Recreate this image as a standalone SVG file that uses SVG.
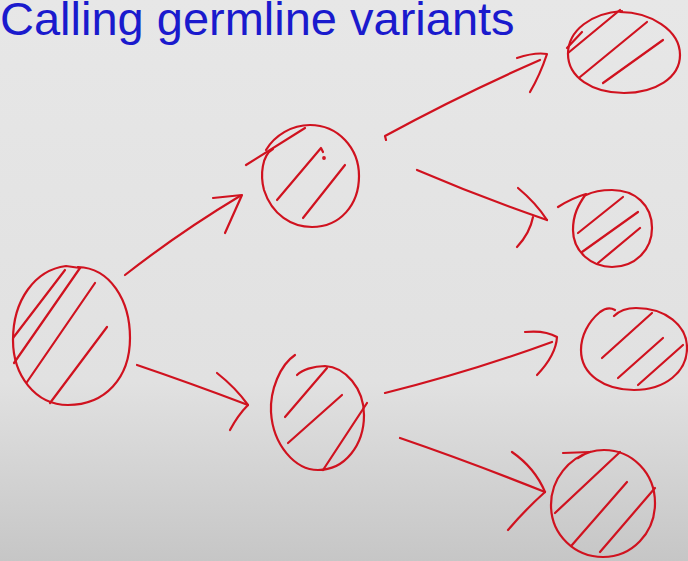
<svg xmlns="http://www.w3.org/2000/svg" width="688" height="561" viewBox="0 0 688 561">
  <defs>
    <linearGradient id="bg" x1="0" y1="0" x2="0" y2="1">
      <stop offset="0" stop-color="#e7e7e7"/>
      <stop offset="0.68" stop-color="#e1e1e1"/>
      <stop offset="1" stop-color="#c6c6c6"/>
    </linearGradient>
  </defs>
  <style>
    .ink { fill: none; stroke: #d0121f; stroke-width: 2.2; stroke-linecap: round; stroke-linejoin: round; }
    .title { font-family: "Liberation Sans", Arial, sans-serif; font-size: 47px; fill: #1a1acd; }
  </style>

  <rect width="688" height="561" fill="url(#bg)"/>
  <text class="title" x="0" y="35">Calling germline variants</text>

  <!-- root sample -->
  <g id="node-root" class="ink">
    <path d="M78,267 C110,268 130,300 130,338 C130,378 105,405 68,405 C35,405 13,375 13,340 C13,300 35,270 66,266 L80,268"/>
    <path d="M13,338 L65,270"/>
    <path d="M14,363 L80,268"/>
    <path d="M27,382 L95,283"/>
    <path d="M50,403 L107,327"/>
  </g>

  <!-- upper branch -->
  <g id="node-mid-top" class="ink">
    <path d="M273,149 C262,155 260,175 264,190 C272,215 292,227 312,227 C340,227 359,205 359,176 C359,148 338,125 310,125 C292,125 275,135 266,150"/>
    <path d="M246,165 L305,128"/>
    <path d="M277,200 L321,148 L323,152"/>
    <path d="M303,218 L345,165"/>
    <circle cx="324" cy="158" r="0.8" fill="#d0121f"/>
  </g>

  <!-- lower branch -->
  <g id="node-mid-bottom" class="ink">
    <path d="M295,355 C280,365 270,390 271,412 C273,445 295,470 318,470 C345,470 364,445 364,415 C364,388 345,367 325,366 C313,366 302,370 297,375"/>
    <path d="M285,417 L327,368"/>
    <path d="M288,443 L342,395"/>
    <path d="M323,470 L367,403"/>
  </g>

  <!-- leaves -->
  <g id="node-leaf-1" class="ink">
    <path d="M620,12 C650,12 680,30 680,55 C680,78 655,93 624,93 C592,93 568,77 568,54 C568,30 592,13 622,11"/>
    <path d="M567,48 L582,32"/>
    <path d="M568,53 L620,10"/>
    <path d="M580,77 L647,22"/>
    <path d="M603,83 L663,40"/>
  </g>

  <g id="node-leaf-2" class="ink">
    <path d="M558,207 Q572,198 586,194 C578,205 573,215 573,230 C573,252 592,267 612,267 C635,267 652,250 652,228 C652,205 635,190 612,190 C600,190 592,192 586,195"/>
    <path d="M578,233 L623,197"/>
    <path d="M582,252 L638,212"/>
    <path d="M598,263 L640,228"/>
  </g>

  <g id="node-leaf-3" class="ink">
    <path d="M615,310 Q608,306 600,312 C588,322 581,336 581,350 C581,375 605,390 634,390 C665,390 687,372 687,348 C687,325 665,308 636,308 C625,308 618,312 614,316"/>
    <path d="M602,358 L652,313"/>
    <path d="M618,378 L663,338"/>
    <path d="M638,385 L683,345"/>
  </g>

  <g id="node-leaf-4" class="ink">
    <path d="M563,453 L590,452"/>
    <path d="M590,452 C570,458 551,478 551,505 C551,535 575,557 603,557 C632,557 655,533 655,503 C655,473 632,450 604,450 C595,450 585,453 578,458"/>
    <path d="M555,513 L620,452"/>
    <path d="M572,545 L627,482"/>
    <path d="M600,552 L655,488"/>
  </g>

  <g id="connectors" class="ink">
    <!-- root to upper branch -->
    <path d="M125,275 Q180,232 240,196"/>
    <path d="M213,198 L242,195 L225,233"/>
    <!-- root to lower branch -->
    <path d="M137,365 Q190,383 248,405"/>
    <path d="M217,373 Q236,388 248,405 Q238,415 230,430"/>
    <!-- upper branch to leaves -->
    <path d="M386,140 L385,136 Q460,95 540,60"/>
    <path d="M517,58 Q535,52 547,54 Q540,75 530,92"/>
    <path d="M417,170 Q480,197 547,220"/>
    <path d="M518,188 Q536,203 547,220"/>
    <path d="M533,217 Q530,233 517,247"/>
    <!-- lower branch to leaves -->
    <path d="M385,393 Q470,372 552,342"/>
    <path d="M525,332 Q545,330 557,337 Q556,355 537,375"/>
    <path d="M400,438 Q470,462 545,492"/>
    <path d="M512,452 Q535,468 545,492 Q525,510 508,530"/>
  </g>
</svg>
